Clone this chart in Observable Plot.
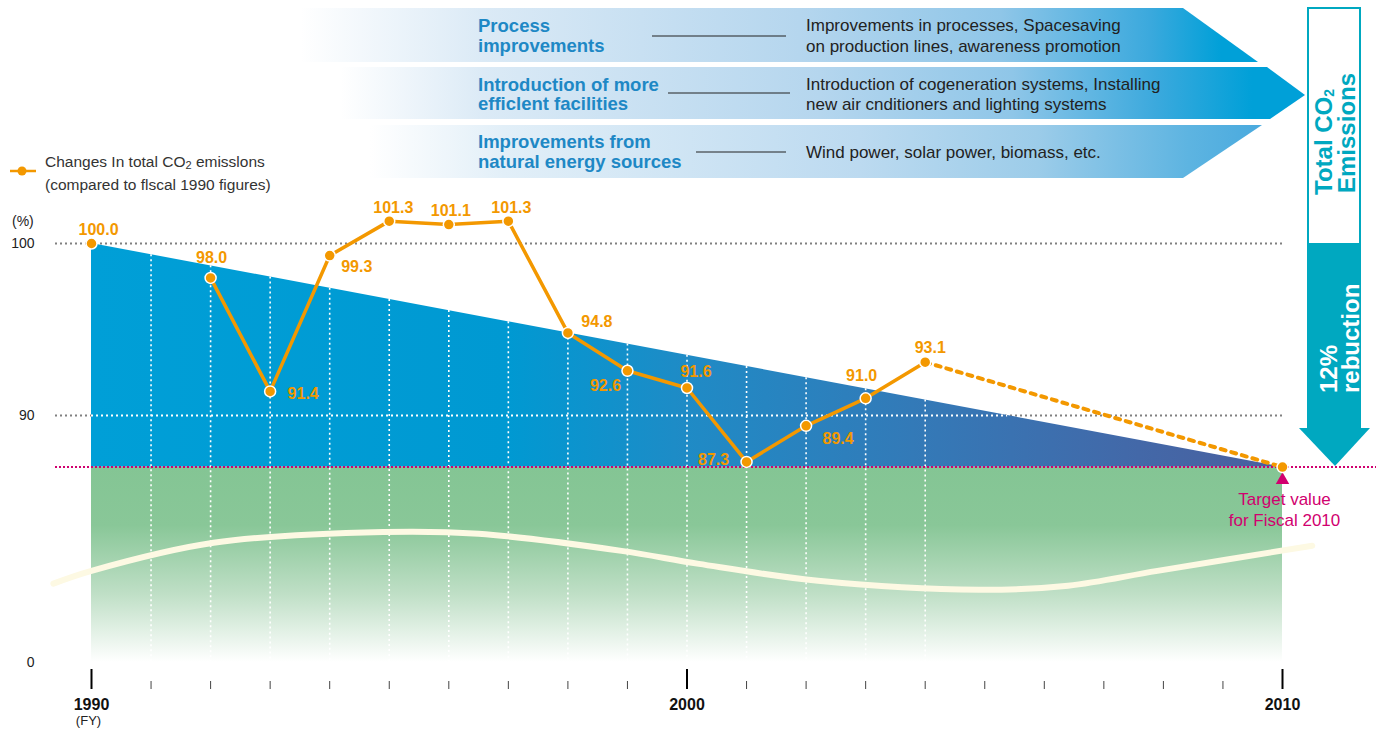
<!DOCTYPE html>
<html><head><meta charset="utf-8">
<script src="https://cdn.jsdelivr.net/npm/d3@7"></script>
<script src="https://cdn.jsdelivr.net/npm/@observablehq/plot@0.6"></script>
<style>
body{margin:0;background:#fff;font-family:"Liberation Sans",Arial,sans-serif;}
#wrap{position:relative;width:1376px;height:730px;overflow:hidden}
#overlay{position:absolute;left:0;top:0;pointer-events:none}
.legend{position:absolute;left:8px;top:152px;font-size:15.5px;color:#333;line-height:19px;white-space:nowrap}
.pct{position:absolute;left:12px;top:213px;font-size:14px;color:#222}
</style></head><body>
<div id="wrap">
<div id="chart"></div>
<svg id="overlay" width="1376" height="730" font-family="Liberation Sans, Arial, sans-serif">
  <defs>
    <linearGradient id="blueGrad" x1="0" y1="0" x2="1" y2="0">
      <stop offset="0" stop-color="#009fd7"/>
      <stop offset="0.35" stop-color="#0099d2"/>
      <stop offset="0.5" stop-color="#1f8bc6"/>
      <stop offset="0.7" stop-color="#3479b7"/>
      <stop offset="0.88" stop-color="#4368a8"/>
      <stop offset="1" stop-color="#4a5f9e"/>
    </linearGradient>
    <linearGradient id="greenGrad" x1="0" y1="0" x2="0" y2="1">
      <stop offset="0" stop-color="#84c594"/>
      <stop offset="0.3" stop-color="#89c798"/>
      <stop offset="0.65" stop-color="#bfdfc6"/>
      <stop offset="1" stop-color="#ffffff"/>
    </linearGradient>
    <linearGradient id="band1" gradientUnits="userSpaceOnUse" x1="300" y1="0" x2="1260" y2="0">
      <stop offset="0" stop-color="#ffffff"/>
      <stop offset="0.19" stop-color="#dbeaf6"/>
      <stop offset="0.52" stop-color="#b5d6ee"/>
      <stop offset="0.73" stop-color="#8fc6e8"/>
      <stop offset="0.885" stop-color="#3ba9dd"/>
      <stop offset="0.96" stop-color="#00a0d8"/>
    </linearGradient>
    <linearGradient id="band2" gradientUnits="userSpaceOnUse" x1="340" y1="0" x2="1300" y2="0">
      <stop offset="0" stop-color="#ffffff"/>
      <stop offset="0.15" stop-color="#dbeaf6"/>
      <stop offset="0.5" stop-color="#b5d6ee"/>
      <stop offset="0.7" stop-color="#8fc6e8"/>
      <stop offset="0.85" stop-color="#3ba9dd"/>
      <stop offset="0.95" stop-color="#00a0d8"/>
    </linearGradient>
    <linearGradient id="band3" gradientUnits="userSpaceOnUse" x1="370" y1="0" x2="1260" y2="0">
      <stop offset="0" stop-color="#ffffff"/>
      <stop offset="0.15" stop-color="#e2eff8"/>
      <stop offset="0.55" stop-color="#bcdaf0"/>
      <stop offset="0.75" stop-color="#9ccce9"/>
      <stop offset="0.92" stop-color="#5db4e1"/>
      <stop offset="1" stop-color="#4aaade"/>
    </linearGradient>
  </defs>
  <polygon points="300,8 1183,8 1258,62 300,62" fill="url(#band1)"/>
  <polygon points="340,67 1267,67 1305,95 1270,119 340,119" fill="url(#band2)"/>
  <polygon points="370,125 1262,125 1183,178 370,178" fill="url(#band3)"/>
  <g font-size="18.5" font-weight="bold" fill="#1e88c5" dominant-baseline="central">
    <text x="478" y="25">Process</text>
    <text x="478" y="45">improvements</text>
    <text x="478" y="84">Introduction of more</text>
    <text x="478" y="103">efficlent facilities</text>
    <text x="478" y="141">Improvements from</text>
    <text x="478" y="161">natural energy sources</text>
  </g>
  <g stroke="#222" stroke-width="1">
    <line x1="652" y1="36" x2="786" y2="36"/>
    <line x1="668" y1="93" x2="790" y2="93"/>
    <line x1="696" y1="152" x2="786" y2="152"/>
  </g>
  <g font-size="17" fill="#222" dominant-baseline="central">
    <text x="806" y="25">Improvements in processes, Spacesaving</text>
    <text x="806" y="46">on production lines, awareness promotion</text>
    <text x="806" y="84">Introduction of cogeneration systems, Installing</text>
    <text x="806" y="104">new air cnditioners and lighting systems</text>
    <text x="806" y="152">Wind power, solar power, biomass, etc.</text>
  </g>
  <rect x="1308" y="8" width="52" height="236" fill="#fff" stroke="#00a8c0" stroke-width="2"/>
  <rect x="1307" y="243" width="54" height="186" fill="#00a8c0"/>
  <polygon points="1299,428 1370,428 1335,466" fill="#00a8c0"/>
  <g font-size="24" font-weight="bold">
    <text transform="translate(1332,195) rotate(-90)" fill="#00a8c0">Total CO<tspan font-size="14" dy="2">2</tspan></text>
    <text transform="translate(1355,193) rotate(-90)" fill="#00a8c0">Emissions</text>
    <text transform="translate(1337,393) rotate(-90)" fill="#fff">12%</text>
    <text transform="translate(1359,393) rotate(-90)" fill="#fff">rebuction</text>
  </g>
</svg>
<div class="legend">
  <svg width="34" height="12" style="position:absolute;left:0;top:13px">
    <line x1="2" y1="6" x2="10" y2="6" stroke="#f39800" stroke-width="2.5"/>
    <line x1="18" y1="6" x2="28" y2="6" stroke="#f39800" stroke-width="2.5"/>
    <circle cx="14" cy="6" r="4.5" fill="#f39800"/>
  </svg>
  <div style="position:absolute;left:37px;top:0">Changes In total CO<span style="font-size:11px;vertical-align:-2px">2</span> emisslons<br>(compared to flscal 1990 figures)</div>
</div>
<div class="pct">(%)</div>
</div>
<script>
// ---- data ----
const years = [1990, 1992, 1993, 1994, 1995, 1996, 1997, 1998, 1999, 2000, 2001, 2002, 2003, 2004];
const emissions = [100.0, 98.0, 91.4, 99.3, 101.3, 101.1, 101.3, 94.8, 92.6, 91.6, 87.3, 89.4, 91.0, 93.1];
const baseYear = 1990, baseValue = 100;
const targetYear = 2010, targetValue = 87.0;
const gridYears = [1991, 1992, 1993, 1994, 1995, 1996, 1997, 1998, 1999, 2000, 2001, 2002, 2003, 2004];
const majorTickYears = [1990, 2000, 2010];
const minorTickYears = [1991, 1992, 1993, 1994, 1995, 1996, 1997, 1998, 1999, 2001, 2002, 2003, 2004, 2005, 2006, 2007, 2008, 2009];
const yTickValues = [100, 90, 0];
const waveYears = [1989.36, 1990.0, 1992.05, 1994.9, 1996.5, 1998.9, 2000.2, 2002.2, 2004.9, 2006.4, 2007.9, 2010.5];
const waveValues = [35.1, 40.8, 53.3, 58.1, 57.3, 49.7, 43.9, 36.4, 32.4, 34.2, 40.8, 52.0];

// ---- layout helpers (placement only) ----
const labelOffsets = {1990:[7,-14],1992:[1,-20],1993:[33,2],1994:[27,11],1995:[4,-13],1996:[2,-14],1997:[3,-13],
  1998:[29,-11],1999:[-22,15],2000:[9,-16],2001:[-33,-2],2002:[32,13],2003:[-4,-22],2004:[5,-14]};
const orange = "#f39800", magenta = "#d1006f";

const pts = years.map((y, i) => ({year: y, value: emissions[i]}));
const target = {year: targetYear, value: targetValue};
const trend = [{year: baseYear, value: baseValue}, target];
const topAt = d3.scaleLinear().domain([baseYear, targetYear]).range([baseValue, targetValue]);
const wave = waveYears.map((y, i) => ({year: y, value: waveValues[i]}));
const solid = pts.filter(d => d.year >= 1992);
const last = pts[pts.length - 1];

const labelMarks = pts.map(d => Plot.text([d], {
  x: "year", y: "value", text: p => p.value.toFixed(1),
  dx: labelOffsets[d.year][0], dy: labelOffsets[d.year][1],
  fill: orange, fontSize: 16, fontWeight: "bold"
}));

const chart = Plot.plot({
  width: 1376, height: 730,
  marginLeft: 91, marginRight: 94, marginTop: 0, marginBottom: 61,
  style: {fontFamily: "Liberation Sans, Arial, sans-serif", overflow: "visible", background: "transparent"},
  x: {domain: [1990, 2010], label: null},
  y: {type: "linear", domain: [0, 87, 102], range: [662, 466.6, 208.6], label: null},
  marks: [
    Plot.areaY(trend, {x: "year", y1: () => 0, y2: () => targetValue, fill: "url(#greenGrad)"}),
    Plot.ruleY([100, 90], {stroke: "#808080", strokeWidth: 2, strokeDasharray: "2,3", insetLeft: -36}),
    Plot.areaY(trend, {x: "year", y1: () => targetValue, y2: "value", fill: "url(#blueGrad)"}),
    Plot.ruleY([90], {x1: () => baseYear, x2: () => topAt.invert(90), stroke: "#fff", strokeWidth: 2, strokeDasharray: "2,3"}),
    Plot.ruleX(gridYears, {x: d => d, y1: d => topAt(d), y2: () => 0, stroke: "#fff", strokeWidth: 1.6, strokeDasharray: "2,3"}),
    Plot.line(wave, {x: "year", y: "value", curve: "catmull-rom", stroke: "#fdf9e3", strokeWidth: 6}),
    Plot.ruleY([targetValue], {stroke: magenta, strokeWidth: 2, strokeDasharray: "2,2", insetLeft: -36, insetRight: -94}),
    Plot.line(solid, {x: "year", y: "value", stroke: orange, strokeWidth: 3.5}),
    Plot.line([last, target], {x: "year", y: "value", stroke: orange, strokeWidth: 4, strokeDasharray: "5,6"}),
    Plot.dot([target], {x: "year", y: "value", symbol: "triangle", fill: magenta, r: 5, dy: 13}),
    Plot.dot([...pts, target], {x: "year", y: "value", r: 5.5, fill: orange, stroke: "#fff", strokeWidth: 1.5}),
    ...labelMarks,
    Plot.text([target], {x: "year", y: "value", text: () => "Target value\nfor Fiscal 2010", dy: 42, dx: 2, fill: magenta, fontSize: 17, lineHeight: 1.2}),
    Plot.axisY({ticks: yTickValues, tickSize: 0, tickPadding: 57, fontSize: 14, fill: "#222", label: null, tickFormat: d => String(d)}),
    Plot.axisX({ticks: minorTickYears, tickSize: 8, dy: 12, stroke: "#444", tickFormat: () => "", label: null}),
    Plot.axisX({ticks: majorTickYears, tickSize: 20, strokeWidth: 2, stroke: "#000", tickPadding: 9, fontSize: 16, fontWeight: "bold", fill: "#111", tickFormat: d => String(d), label: null}),
    Plot.text([baseYear], {x: d => d, frameAnchor: "bottom", dy: 55, dx: -3, text: () => "(FY)", fontSize: 13, fill: "#222"})
  ]
});
document.getElementById("chart").appendChild(chart);
</script>
</body></html>
